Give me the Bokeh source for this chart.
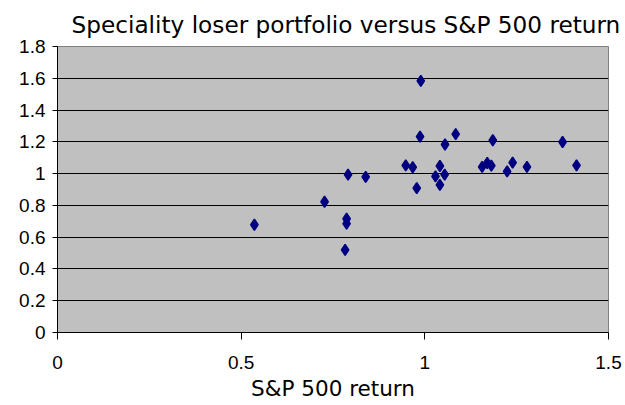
from bokeh.plotting import figure
from bokeh.models import ColumnDataSource, FixedTicker, Title
from bokeh.embed import file_html
from bokeh.resources import INLINE

# Data
sp500_return = [0.536, 0.727, 0.791, 0.787, 0.787, 0.783, 0.839, 0.989, 0.987, 0.948,
                0.967, 0.978, 1.055, 1.084, 1.041, 1.029, 1.054, 1.041, 1.185, 1.156,
                1.170, 1.181, 1.224, 1.239, 1.278, 1.375, 1.413]
loser_return = [0.678, 0.823, 0.994, 0.716, 0.685, 0.520, 0.979, 1.584, 1.233, 1.052,
                1.040, 0.909, 1.183, 1.248, 1.048, 0.983, 0.994, 0.929, 1.210, 1.042,
                1.067, 1.050, 1.014, 1.069, 1.042, 1.199, 1.052]

x_ticks = [0, 0.5, 1, 1.5]
x_tick_labels = ["0", "0.5", "1", "1.5"]
y_ticks = [0, 0.2, 0.4, 0.6, 0.8, 1.0, 1.2, 1.4, 1.6, 1.8]
y_tick_labels = ["0", "0.2", "0.4", "0.6", "0.8", "1", "1.2", "1.4", "1.6", "1.8"]

title_text = "Speciality loser portfolio versus S&P 500 return"
x_label = "S&P 500 return"

source = ColumnDataSource(data=dict(x=sp500_return, y=loser_return))

p = figure(width=625, height=405, frame_width=551, frame_height=286,
           x_range=(0, 1.5), y_range=(0, 1.8),
           output_backend="svg", toolbar_location=None,
           min_border_left=57, min_border_right=17, min_border_top=46, min_border_bottom=73)

p.title = Title(text=title_text, text_font="DejaVu Sans", text_font_size="23.2px",
                text_font_style="normal", text_color="black", align="left", offset=14,
                standoff=17)

p.background_fill_color = "#C0C0C0"
p.border_fill_color = "white"
p.outline_line_color = "#808080"
p.outline_line_width = 1

tick_font = "Liberation Sans"

# X axis
p.xaxis.ticker = FixedTicker(ticks=x_ticks)
p.xaxis.major_label_overrides = {t: l for t, l in zip(x_ticks, x_tick_labels)}
p.xaxis.major_label_text_font = tick_font
p.xaxis.major_label_text_font_size = "19px"
p.xaxis.major_label_text_color = "black"
p.xaxis.major_label_standoff = 16
p.xaxis.major_tick_out = 7
p.xaxis.major_tick_in = 0
p.xaxis.minor_tick_out = 0
p.xaxis.minor_tick_in = 0
p.xaxis.axis_line_color = "black"
p.xaxis.major_tick_line_color = "black"
p.xaxis.axis_label = x_label
p.xaxis.axis_label_text_font = "DejaVu Sans"
p.xaxis.axis_label_text_font_size = "21.5px"
p.xaxis.axis_label_text_font_style = "normal"
p.xaxis.axis_label_text_color = "black"
p.xaxis.axis_label_standoff = 4

# Y axis
p.yaxis.ticker = FixedTicker(ticks=y_ticks)
p.yaxis.major_label_overrides = {t: l for t, l in zip(y_ticks, y_tick_labels)}
p.yaxis.major_label_text_font = tick_font
p.yaxis.major_label_text_font_size = "19px"
p.yaxis.major_label_text_color = "black"
p.yaxis.major_label_standoff = 7
p.yaxis.major_tick_out = 5
p.yaxis.major_tick_in = 0
p.yaxis.minor_tick_out = 0
p.yaxis.minor_tick_in = 0
p.yaxis.axis_line_color = "black"
p.yaxis.major_tick_line_color = "black"

# Grid
p.xgrid.grid_line_color = None
p.ygrid.grid_line_color = "black"
p.ygrid.grid_line_width = 1

p.scatter("x", "y", source=source, marker="diamond", size=11,
          fill_color="#000080", line_color="#000080", line_width=1.5)

open("out.html", "w").write(file_html(p, INLINE))
